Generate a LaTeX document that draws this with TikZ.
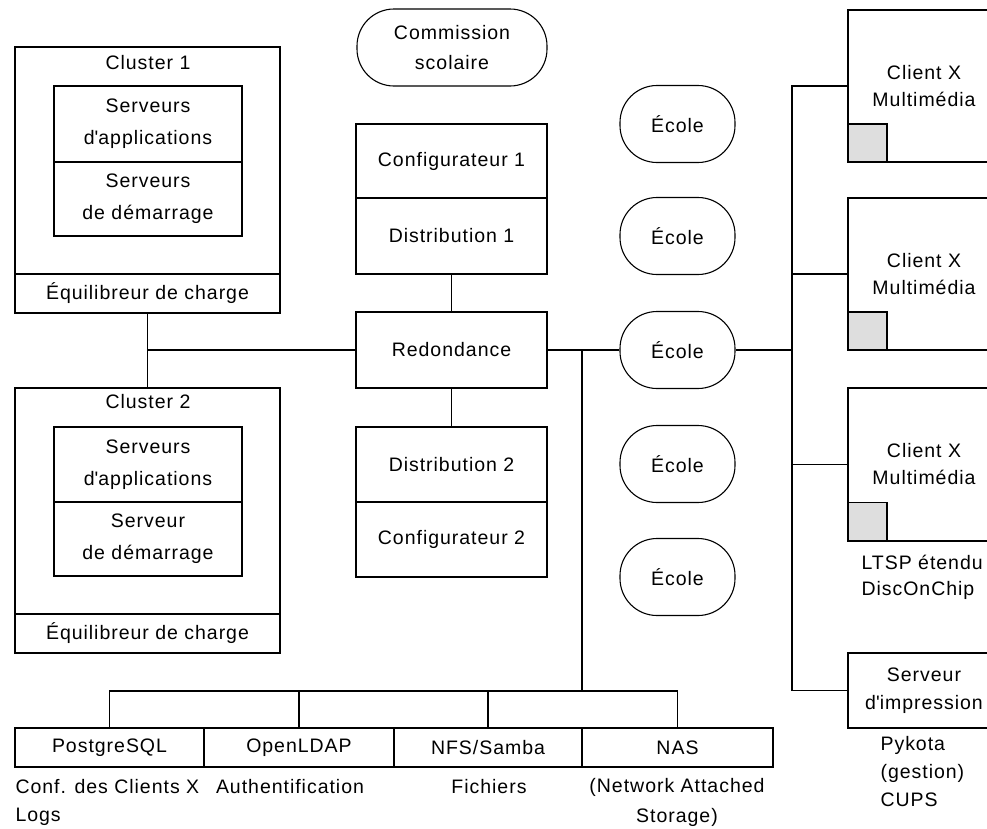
\documentclass[tikz,border=0pt]{standalone}
\usepackage{fontspec}
\setmainfont[LetterSpace=5]{Liberation Sans}
\definecolor{sqgray}{HTML}{DEDEDE}
\newcommand{\sq}{\textquotesingle}
\begin{document}
\begin{tikzpicture}[x=1pt,y=-1pt,line width=1.1pt,
  lsp/.style={font=\fontsize{19.5}{#1}\selectfont},
  box/.style={draw, rectangle, inner sep=0pt, align=center, lsp=28},
  oval/.style={draw, rectangle, rounded corners=37pt, inner sep=0pt, align=center, lsp=30},
  lbl/.style={inner sep=0pt, lsp=28},
  sqbox/.style={draw, fill=sqgray, rectangle, inner sep=0pt, minimum width=39pt, minimum height=38pt}]
\useasboundingbox (0,0) rectangle (987,828);
\fill[white] (0,0) rectangle (987,828);
\clip (0,0) rectangle (987,828);

% Cluster 1
\node[box, minimum width=265pt, minimum height=266pt] (c1) at (147.5,180) {};
\node[box, minimum width=265pt, minimum height=39pt] (c1eq) at (147.5,293.5) {Équilibreur de charge};
\node[lbl] (c1t) at (148,63) {Cluster 1};
\node[box, lsp=32, minimum width=188pt, minimum height=76pt] (c1a) at (148,124) {Serveurs\\d\sq applications};
\node[box, lsp=32, minimum width=188pt, minimum height=74pt] (c1b) at (148,199) {Serveurs\\de démarrage};

% Cluster 2
\node[box, minimum width=265pt, minimum height=265pt] (c2) at (147.5,520.5) {};
\node[box, minimum width=265pt, minimum height=39pt] (c2eq) at (147.5,633.5) {Équilibreur de charge};
\node[lbl] (c2t) at (148,402) {Cluster 2};
\node[box, lsp=32, minimum width=188pt, minimum height=75pt] (c2a) at (148,464.5) {Serveurs\\d\sq applications};
\node[box, lsp=32, minimum width=188pt, minimum height=74pt] (c2b) at (148,539) {Serveur\\de démarrage};

% Centre column
\node[oval, minimum width=190pt, minimum height=77pt] (cs) at (452,47.5) {Commission\\scolaire};
\node[box, minimum width=191pt, minimum height=74pt] (cfg1) at (451.5,161) {Configurateur 1};
\node[box, minimum width=191pt, minimum height=76pt] (dist1) at (451.5,236) {Distribution 1};
\node[box, minimum width=191pt, minimum height=76pt] (red) at (451.5,350) {Redondance};
\node[box, minimum width=191pt, minimum height=75pt] (dist2) at (451.5,464.5) {Distribution 2};
\node[box, minimum width=191pt, minimum height=75pt] (cfg2) at (451.5,539.5) {Configurateur 2};

% Ecoles
\node[oval, minimum width=115pt, minimum height=77pt] (e1) at (677.5,124) {École};
\node[oval, minimum width=115pt, minimum height=77pt] (e2) at (677.5,236) {École};
\node[oval, minimum width=115pt, minimum height=77pt] (e3) at (677.5,350) {École};
\node[oval, minimum width=115pt, minimum height=77pt] (e4) at (677.5,464) {École};
\node[oval, minimum width=115pt, minimum height=77pt] (e5) at (677.5,577) {École};

% Bottom services
\node[box, minimum width=189pt, minimum height=39pt] (pg) at (109.5,747.5) {PostgreSQL};
\node[box, minimum width=190pt, minimum height=39pt] (ldap) at (299,747.5) {OpenLDAP};
\node[box, minimum width=188pt, minimum height=39pt] (nfs) at (488,747.5) {NFS/Samba};
\node[box, minimum width=191pt, minimum height=39pt] (nas) at (677.5,747.5) {NAS};
\node[lbl, anchor=west] (pgl1) at (15,787) {Conf. des Clients X};
\node[lbl, anchor=west] (pgl2) at (15,817) {Logs};
\node[lbl] (ldapl) at (290,787) {Authentification};
\node[lbl] (nfsl) at (489,787) {Fichiers};
\node[lbl] (nasl1) at (677,787) {(Network Attached};
\node[lbl] (nasl2) at (677,817) {Storage)};

% Clients
\node[box, lsp=27, minimum width=152pt, minimum height=152pt] (cl1) at (924,86) {Client X\\Multimédia};
\node[box, lsp=27, minimum width=152pt, minimum height=152pt] (cl2) at (924,274) {Client X\\Multimédia};
\node[box, lsp=27, minimum width=152pt, minimum height=153pt] (cl3) at (924,464.5) {Client X\\Multimédia};
\node[sqbox] (sq1) at (867.5,143) {};
\node[sqbox] (sq2) at (867.5,331) {};
\node[sqbox] (sq3) at (867.5,521.5) {};
\node[lbl, anchor=west] (ltsp1) at (861,562) {LTSP étendu};
\node[lbl, anchor=west] (ltsp2) at (861,590) {DiscOnChip};
\node[box, minimum width=152pt, minimum height=75pt] (prt) at (924,690.5) {Serveur\\d\sq impression};
\node[lbl, anchor=west] (pk1) at (880,745) {Pykota};
\node[lbl, anchor=west] (pk2) at (880,773) {(gestion)};
\node[lbl, anchor=west] (pk3) at (880,800) {CUPS};

% Connectors
\coordinate (j1) at (147.5,350);
\coordinate (h1) at (582,350);
\coordinate (h2) at (582,691);
\coordinate (rb) at (792,350);
\draw (c1.south) -- (c2.north);
\draw (j1) -- (red.west);
\draw (dist1.south) -- (red.north);
\draw (red.south) -- (dist2.north);
\draw (red.east) -- (e3.west);
\draw (h1) -- (h2);
\draw (pg.north) |- (h2) -| (nas.north);
\draw (ldap.north) -- (ldap.north |- h2);
\draw (nfs.north) -- (nfs.north |- h2);
\draw (e3.east) -- (rb);
\draw (cl1.west) -| (rb) |- (prt.west);
\draw (cl2.west) -- (cl2.west -| rb);
\draw (cl3.west) -- (cl3.west -| rb);
\end{tikzpicture}
\end{document}
